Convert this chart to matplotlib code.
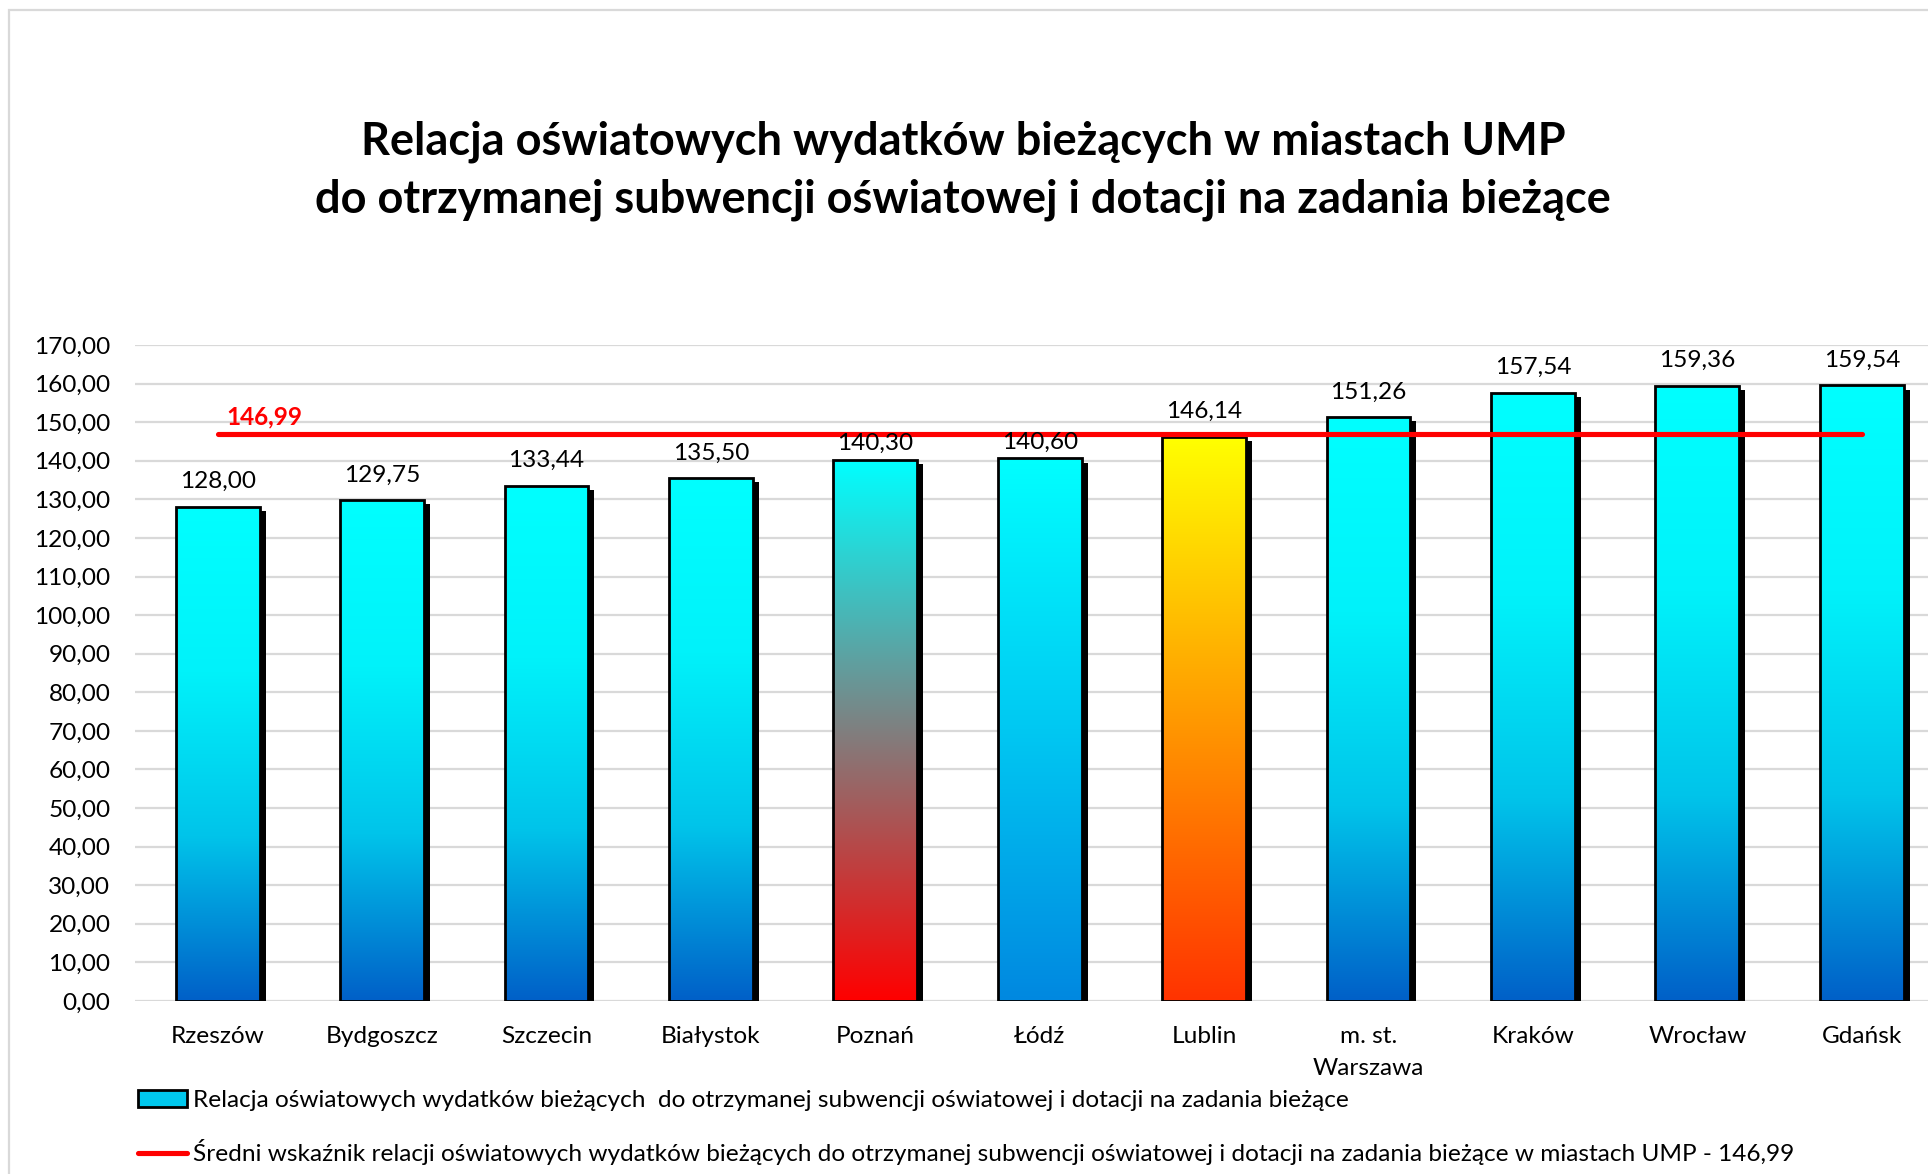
import numpy as np
import matplotlib
matplotlib.use("Agg")
import matplotlib.pyplot as plt
import matplotlib.patheffects as pe
from matplotlib.colors import LinearSegmentedColormap, to_rgb
from matplotlib.patches import Patch, Rectangle
from matplotlib.lines import Line2D

plt.rcParams['font.family'] = ['Lato', 'DejaVu Sans']

# ---------------- data ----------------
cities = ["Rzeszów", "Bydgoszcz", "Szczecin", "Białystok", "Poznań", "Łódź",
          "Lublin", "m. st.\nWarszawa", "Kraków", "Wrocław", "Gdańsk"]
values = [128.00, 129.75, 133.44, 135.50, 140.30, 140.60,
          146.14, 151.26, 157.54, 159.36, 159.54]
average = 146.99
y_ticks = [0, 10, 20, 30, 40, 50, 60, 70, 80, 90, 100, 110, 120, 130, 140, 150, 160, 170]
title = ("Relacja oświatowych wydatków bieżących w miastach UMP\n"
         "do otrzymanej subwencji oświatowej i dotacji na zadania bieżące")
legend_bar = "Relacja oświatowych wydatków bieżących  do otrzymanej subwencji oświatowej i dotacji na zadania bieżące"
legend_line = ("Średni wskaźnik relacji oświatowych wydatków bieżących do otrzymanej subwencji "
               "oświatowej i dotacji na zadania bieżące w miastach UMP - 146,99")

# ---------------- styles ----------------
grad_default = ["#00FFFF", "#00F2FA", "#00C4EA", "#0060C8"]
grad_special = {
    "Poznań": ["#00FFFF", "#FF0000"],
    "Łódź": ["#00FFFF", "#00C8F2", "#0088E0"],
    "Lublin": ["#FFFF00", "#FF3300"],
}
FS = 17.6

def fmt(v):
    return f"{v:.2f}".replace(".", ",")

W, H, DPI = 1928, 1174, 100
fig = plt.figure(figsize=(W / DPI, H / DPI), dpi=DPI)

# outer chart frame
fig.patches.append(Rectangle((9 / W, -0.1), 1.2, 1 - 10 / H + 0.1, transform=fig.transFigure,
                             fill=False, edgecolor="#D9D9D9", lw=1.6))

ax_left = 135.4 / W
ax_right = 1944 / W
ax_bottom = 1 - 1001 / H
ax_top = 1 - 345 / H
ax = fig.add_axes([ax_left, ax_bottom, ax_right - ax_left, ax_top - ax_bottom])

x = np.arange(len(cities))
bw = 0.51
bars = ax.bar(x, values, width=bw, color="white", edgecolor="none", zorder=2)
for b in bars:
    b.set_path_effects([pe.SimplePatchShadow(offset=(4.3, -3.0), shadow_rgbFace="black", alpha=1.0),
                        pe.Normal()])

for name, b, v in zip(cities, bars, values):
    stops = grad_special.get(name, grad_default)
    cmap = LinearSegmentedColormap.from_list("g", [to_rgb(c) for c in stops])
    grad = np.linspace(0, 1, 256).reshape(-1, 1)
    im = ax.imshow(grad, cmap=cmap, extent=[b.get_x(), b.get_x() + b.get_width(), 0, v],
                   aspect="auto", origin="upper", zorder=2.1, interpolation="bilinear")
    im.set_clip_path(b)

ax.bar(x, values, width=bw, fill=False, edgecolor="black", linewidth=2.0, zorder=2.2)

ax.set_xlim(-0.5, len(cities) - 0.5)
ax.set_ylim(0, 170)

# average line
ax.plot([x[0], x[-1]], [average, average], color="#FF0000", lw=3.7,
        solid_capstyle="round", zorder=5)
ax.annotate(fmt(average), xy=(x[0], average), xytext=(6, 12), textcoords="offset points",
            ha="left", va="center", color="#FF0000", fontsize=FS, fontweight="bold", zorder=6)

# data labels
offsets = [18.2] * len(values)
offsets[4] = 11.5
offsets[5] = 11.5
for xi, v, off in zip(x, values, offsets):
    ax.annotate(fmt(v), xy=(xi, v), xytext=(0, off), textcoords="offset points",
                ha="center", va="center", fontsize=FS, color="black", zorder=6)

# axes styling
ax.set_yticks(y_ticks)
ax.set_yticklabels([fmt(t) for t in y_ticks], fontsize=FS)
ax.set_xticks(x)
ax.set_xticklabels(cities, fontsize=FS, linespacing=1.62)
ax.tick_params(axis="both", length=0)
ax.tick_params(axis="y", pad=18)
ax.tick_params(axis="x", pad=18)
for s in ax.spines.values():
    s.set_visible(False)
ax.yaxis.grid(True, color="#D9D9D9", lw=1.6)
ax.set_axisbelow(True)

# title
fig.text(0.4995, 1 - 171 / H, title, ha="center", va="center", fontsize=32.5,
         fontweight="bold", linespacing=1.45)

# legend
handles = [Patch(facecolor="#00C8EE", edgecolor="black", lw=2.0),
           Line2D([0], [0], color="#FF0000", lw=3.7, solid_capstyle="round")]
fig.legend(handles, [legend_bar, legend_line], loc="upper left",
           bbox_to_anchor=(138 / W, 1 - 1090 / H), frameon=False, fontsize=FS,
           handlelength=2.0, handleheight=0.7, handletextpad=0.25, labelspacing=1.15,
           borderpad=0, borderaxespad=0)

fig.savefig("out.png", dpi=DPI)
